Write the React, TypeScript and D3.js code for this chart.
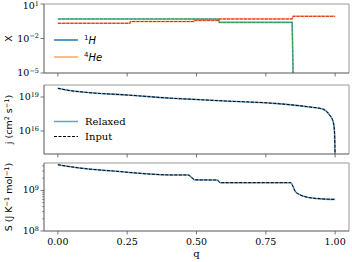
import React from "react";
import * as d3 from "d3";

// Top panel: mass fractions
const qH = [0, 0.58, 0.582, 0.845, 0.85];
const xH = [0.5, 0.5, 0.25, 0.25, 1e-7];
const qHe = [0, 0.26, 0.262, 0.49, 0.492, 0.58, 0.582, 0.845, 0.848, 1.0];
const xHe = [0.21, 0.21, 0.3, 0.3, 0.38, 0.38, 0.5, 0.5, 0.85, 0.85];

// Middle panel: specific angular momentum
const qJ = [0, 0.03, 0.1, 0.25, 0.41, 0.5, 0.6, 0.78, 0.9, 0.955, 0.98, 0.993, 0.998, 1.0];
const jVals = [5.9e19, 4.2e19, 2.6e19, 1.5e19, 7.8e18, 6.0e18, 4.5e18, 2.75e18, 1.4e18, 8.7e17, 2.6e17, 6.6e16, 6e15, 3e13];

// Bottom panel: entropy
const qS = [0, 0.08, 0.2, 0.42, 0.47, 0.485, 0.495, 0.575, 0.585, 0.84, 0.848, 0.856, 0.87, 0.9, 0.95, 1.0];
const sVals = [4.3e9, 3.55e9, 3.0e9, 2.4e9, 2.4e9, 2.0e9, 1.82e9, 1.8e9, 1.55e9, 1.55e9, 1.25e9, 0.95e9, 0.8e9, 0.68e9, 0.62e9, 0.6e9];

const xTicks = [0, 0.25, 0.5, 0.75, 1.0];
const topTicks = [-5, -2, 1];
const midTicks = [16, 19];
const botTicks = [8, 9];

const L = 44, R = 349;
const panels = [
  { top: 4, bot: 73 },
  { top: 85, bot: 154 },
  { top: 163, bot: 231 },
];

const serif = "DejaVu Serif";
const sans = "DejaVu Sans";
const blue = "#1f77b4", orange = "#ff7f0e", green = "#2ca02c", red = "#d62728";

function Pow({ x, y, e }: { x: number; y: number; e: number }) {
  return (
    <text x={x} y={y} textAnchor="end" fontFamily={serif} fontSize={9.5} dominantBaseline="middle">
      10
      <tspan dy={-3} fontSize={6.5}>{e < 0 ? "\u2212" + Math.abs(e) : e}</tspan>
    </text>
  );
}

export default function App() {
  const x = d3.scaleLinear().domain([-0.05, 1.05]).range([L, R]);
  const y0 = d3.scaleLog().domain([1e-5, 10]).range([panels[0].bot, panels[0].top]);
  const y1 = d3.scaleLog().domain([Math.pow(10, 13.97), Math.pow(10, 20.06)]).range([panels[1].bot, panels[1].top]);
  const y2 = d3.scaleLog().domain([1e8, Math.pow(10, 9.675)]).range([panels[2].bot, panels[2].top]);

  const mk = (ys: any, curve: any) =>
    d3.line<[number, number]>().x((d) => x(d[0])).y((d) => ys(d[1])).curve(curve);

  const hPts = qH.map((q, i) => [q, xH[i]] as [number, number]);
  const hePts = qHe.map((q, i) => [q, xHe[i]] as [number, number]);
  const jPts = qJ.map((q, i) => [q, jVals[i]] as [number, number]);
  const sPts = qS.map((q, i) => [q, sVals[i]] as [number, number]);

  const lTop = mk(y0, d3.curveLinear);
  const lJ = mk(y1, d3.curveMonotoneX);
  const lS = mk(y2, d3.curveMonotoneX);

  const frame = (p: { top: number; bot: number }, i: number) => (
    <g key={"f" + i}>
      <line x1={L} x2={R} y1={p.top} y2={p.top} stroke="#999" strokeWidth={1} />
      <line x1={R} x2={R} y1={p.top} y2={p.bot} stroke="#999" strokeWidth={1} />
      <line x1={L} x2={L} y1={p.top} y2={p.bot} stroke="#555" strokeWidth={1} />
      <line x1={L} x2={R} y1={p.bot} y2={p.bot} stroke="#555" strokeWidth={1} />
      {xTicks.map((t) => (
        <line key={t} x1={x(t)} x2={x(t)} y1={p.bot} y2={p.bot + 3.5} stroke="#555" strokeWidth={0.8} />
      ))}
    </g>
  );

  const minorS: number[] = [];
  for (let k = 2; k <= 9; k++) minorS.push(k * 1e8);
  for (let k = 2; k <= 4; k++) minorS.push(k * 1e9);

  return (
    <svg width={352} height={262} style={{ position: "absolute", left: 0, top: 0 }}>
      <defs>
        {panels.map((p, i) => (
          <clipPath id={"c" + i} key={i}>
            <rect x={L} y={p.top} width={R - L} height={p.bot - p.top} />
          </clipPath>
        ))}
      </defs>
      <rect x={0} y={0} width={352} height={262} fill="white" />

      {/* Panel 1 */}
      <g clipPath="url(#c0)">
        <path d={lTop(hPts) || ""} fill="none" stroke={blue} strokeOpacity={0.7} strokeWidth={1.6} />
        <path d={lTop(hePts) || ""} fill="none" stroke={orange} strokeOpacity={0.7} strokeWidth={1.6} />
        <path d={lTop(hPts) || ""} fill="none" stroke={green} strokeWidth={1} strokeDasharray="3,1.2" />
        <path d={lTop(hePts) || ""} fill="none" stroke={red} strokeWidth={1} strokeDasharray="3,1.2" />
      </g>

      {/* Panel 2 */}
      <g clipPath="url(#c1)">
        <path d={lJ(jPts) || ""} fill="none" stroke={blue} strokeOpacity={0.7} strokeWidth={1.6} />
        <path d={lJ(jPts) || ""} fill="none" stroke="#000" strokeWidth={1} strokeDasharray="3,1.5" />
      </g>

      {/* Panel 3 */}
      <g clipPath="url(#c2)">
        <path d={lS(sPts) || ""} fill="none" stroke={blue} strokeOpacity={0.7} strokeWidth={1.6} />
        <path d={lS(sPts) || ""} fill="none" stroke="#000" strokeWidth={1} strokeDasharray="3,1.5" />
      </g>

      {panels.map(frame)}

      {/* y ticks */}
      {topTicks.map((e) => (
        <g key={"t" + e}>
          <line x1={L - 3.5} x2={L} y1={y0(Math.pow(10, e))} y2={y0(Math.pow(10, e))} stroke="#555" strokeWidth={0.8} />
          <Pow x={L - 5} y={y0(Math.pow(10, e)) + (e === 1 ? 2.5 : 0.5)} e={e} />
        </g>
      ))}
      {midTicks.map((e) => (
        <g key={"m" + e}>
          <line x1={L - 3.5} x2={L} y1={y1(Math.pow(10, e))} y2={y1(Math.pow(10, e))} stroke="#555" strokeWidth={0.8} />
          <Pow x={L - 5} y={y1(Math.pow(10, e)) + 0.5} e={e} />
        </g>
      ))}
      {botTicks.map((e) => (
        <g key={"b" + e}>
          <line x1={L - 3.5} x2={L} y1={y2(Math.pow(10, e))} y2={y2(Math.pow(10, e))} stroke="#555" strokeWidth={0.8} />
          <Pow x={L - 5} y={y2(Math.pow(10, e)) + 0.5} e={e} />
        </g>
      ))}
      {minorS.map((v) => (
        <line key={"ms" + v} x1={L - 2} x2={L} y1={y2(v)} y2={y2(v)} stroke="#555" strokeWidth={0.6} />
      ))}

      {/* x tick labels */}
      {xTicks.map((t) => (
        <text key={t} x={x(t)} y={245} textAnchor="middle" fontFamily={serif} fontSize={9.5}>
          {t.toFixed(2)}
        </text>
      ))}
      <text x={(L + R) / 2} y={257} textAnchor="middle" fontFamily={serif} fontSize={10}>q</text>

      {/* y labels */}
      <text transform={`translate(12,${(panels[0].top + panels[0].bot) / 2}) rotate(-90)`} textAnchor="middle" fontFamily={sans} fontSize={9.5}>X</text>
      <text transform={`translate(12,${(panels[1].top + panels[1].bot) / 2}) rotate(-90)`} textAnchor="middle" fontFamily={sans} fontSize={9.5}>
        j (cm<tspan dy={-3.5} fontSize={6.5}>2</tspan><tspan dy={3.5}> s</tspan><tspan dy={-3.5} fontSize={6.5}>{"\u22121"}</tspan><tspan dy={3.5}>)</tspan>
      </text>
      <text transform={`translate(12,${(panels[2].top + panels[2].bot) / 2}) rotate(-90)`} textAnchor="middle" fontFamily={sans} fontSize={9.5}>
        S (J K<tspan dy={-3.5} fontSize={6.5}>{"\u22121"}</tspan><tspan dy={3.5}> mol</tspan><tspan dy={-3.5} fontSize={6.5}>{"\u22121"}</tspan><tspan dy={3.5}>)</tspan>
      </text>

      {/* Legend panel 1 */}
      <line x1={54} x2={78} y1={40} y2={40} stroke={blue} strokeWidth={1.5} />
      <text x={84} y={43.5} fontFamily={sans} fontSize={10}>
        <tspan dy={-3.5} fontSize={7}>1</tspan><tspan dy={3.5} fontStyle="italic">H</tspan>
      </text>
      <line x1={54} x2={78} y1={57} y2={57} stroke={orange} strokeOpacity={0.7} strokeWidth={1.5} />
      <text x={84} y={60.5} fontFamily={sans} fontSize={10}>
        <tspan dy={-3.5} fontSize={7}>4</tspan><tspan dy={3.5} fontStyle="italic">He</tspan>
      </text>

      {/* Legend panel 2 */}
      <line x1={54} x2={78} y1={121.5} y2={121.5} stroke={blue} strokeOpacity={0.7} strokeWidth={1.5} />
      <text x={85} y={125} fontFamily={serif} fontSize={10}>Relaxed</text>
      <line x1={54} x2={78} y1={136.5} y2={136.5} stroke="#000" strokeWidth={1} strokeDasharray="3,1.5" />
      <text x={85} y={140} fontFamily={serif} fontSize={10}>Input</text>
    </svg>
  );
}
